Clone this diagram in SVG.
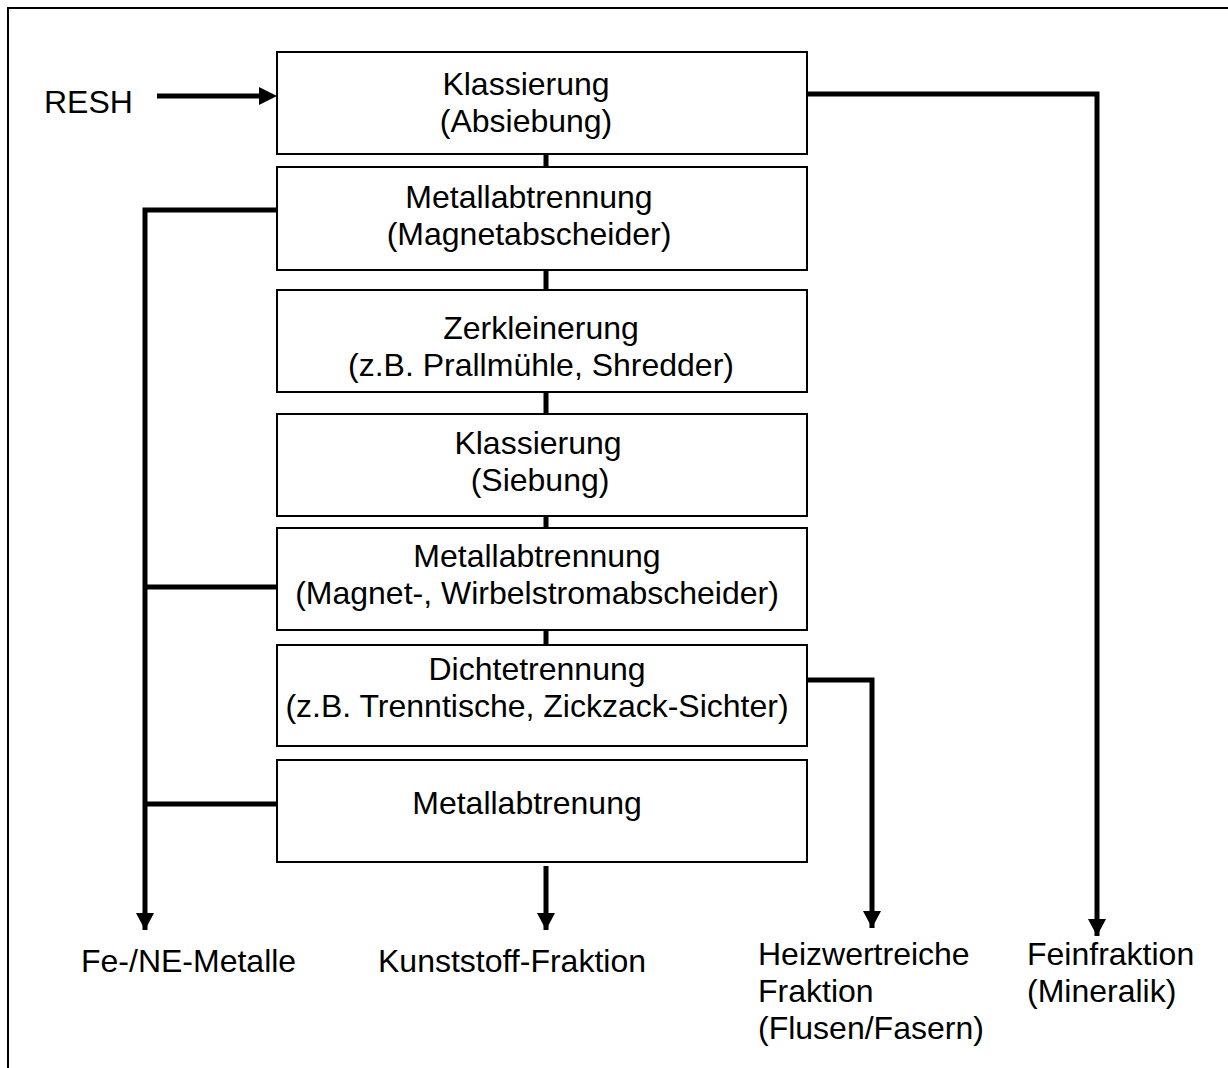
<svg xmlns="http://www.w3.org/2000/svg" width="1228" height="1068" viewBox="0 0 1228 1068">
<style>
.box{fill:#fff;stroke:#000;stroke-width:2}
.t{font-family:"Liberation Sans",Arial,sans-serif;font-size:32px;fill:#000}
.c{text-anchor:middle}
.w{fill:none;stroke:#000;stroke-width:5}
</style>
<defs>
<marker id="ah" markerUnits="userSpaceOnUse" markerWidth="18" markerHeight="18" refX="17" refY="9" orient="auto">
<path d="M0,0 L17,9 L0,18 Z" fill="#000"/>
</marker>
</defs>
<rect width="1228" height="1068" fill="#fff"/>
<path d="M8,1068 V8 H1228" fill="none" stroke="#000" stroke-width="2"/>
<g id="connectors">
<path class="w" d="M546,154 V167 M546,270 V290 M546,392 V414 M546,516 V528 M546,630 V645"/>
<path class="w" d="M157,96 H260" />
<path d="M259,87 L277,96 L259,105 Z" fill="#000"/>
<path class="w" d="M808,94 H1097 V936" marker-end="url(#ah)"/>
<path class="w" d="M277,210 H145 V930" marker-end="url(#ah)"/>
<path class="w" d="M277,587 H145 M277,804 H145"/>
<path class="w" d="M808,680 H872 V928" marker-end="url(#ah)"/>
<path class="w" d="M546,866 V930" marker-end="url(#ah)"/>
</g>
<g id="n1"><rect class="box" x="277" y="52" width="530" height="102"/><text class="t c" x="526" y="95">Klassierung</text><text class="t c" x="526" y="132">(Absiebung)</text></g>
<g id="n2"><rect class="box" x="277" y="167" width="530" height="103"/><text class="t c" x="529" y="208">Metallabtrennung</text><text class="t c" x="529" y="245">(Magnetabscheider)</text></g>
<g id="n3"><rect class="box" x="277" y="290" width="530" height="102"/><text class="t c" x="541" y="339">Zerkleinerung</text><text class="t c" x="541" y="376">(z.B. Prallmühle, Shredder)</text></g>
<g id="n4"><rect class="box" x="277" y="414" width="530" height="102"/><text class="t c" x="538" y="454">Klassierung</text><text class="t c" x="540" y="491">(Siebung)</text></g>
<g id="n5"><rect class="box" x="277" y="528" width="530" height="102"/><text class="t c" x="537" y="567">Metallabtrennung</text><text class="t c" x="537" y="604">(Magnet-, Wirbelstromabscheider)</text></g>
<g id="n6"><rect class="box" x="277" y="645" width="530" height="101"/><text class="t c" x="537" y="680">Dichtetrennung</text><text class="t c" x="537" y="717">(z.B. Trenntische, Zickzack-Sichter)</text></g>
<g id="n7"><rect class="box" x="277" y="760" width="530" height="102"/><text class="t c" x="527" y="814">Metallabtrenung</text></g>
<g id="labels">
<text class="t" x="44" y="113">RESH</text>
<text class="t" x="81" y="972">Fe-/NE-Metalle</text>
<text class="t" x="378" y="972">Kunststoff-Fraktion</text>
<text class="t" x="758" y="965">Heizwertreiche</text>
<text class="t" x="758" y="1002">Fraktion</text>
<text class="t" x="758" y="1039">(Flusen/Fasern)</text>
<text class="t" x="1027" y="965">Feinfraktion</text>
<text class="t" x="1027" y="1002">(Mineralik)</text>
</g>
</svg>
